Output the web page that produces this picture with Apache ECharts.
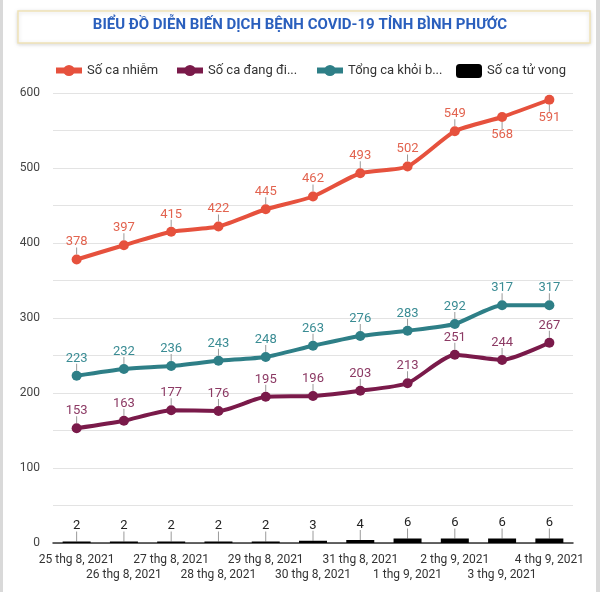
<!DOCTYPE html>
<html>
<head>
<meta charset="utf-8">
<script src="https://cdn.jsdelivr.net/npm/echarts@6/dist/echarts.min.js"></script>
<style>
html,body{margin:0;padding:0;background:#fff;}
#chart{width:600px;height:592px;}
</style>
</head>
<body>
<div id="chart"></div>
<script>
const categories = ['25 thg 8, 2021','26 thg 8, 2021','27 thg 8, 2021','28 thg 8, 2021','29 thg 8, 2021','30 thg 8, 2021','31 thg 8, 2021','1 thg 9, 2021','2 thg 9, 2021','3 thg 9, 2021','4 thg 9, 2021'];
const infected = [378,397,415,422,445,462,493,502,549,568,591];
const treating = [153,163,177,176,195,196,203,213,251,244,267];
const recovered = [223,232,236,243,248,263,276,283,292,317,317];
const deaths = [2,2,2,2,2,3,4,6,6,6,6];
const seriesNames = ['Số ca nhiễm','Số ca đang đi...','Tổng ca khỏi b...','Số ca tử vong'];
const yTicks = [0,100,200,300,400,500,600];

const RED='#e6513d', PURPLE='#7a1a4a', TEAL='#2e7f87';
const RED_T='#e2634f', PURPLE_T='#8c3a64', TEAL_T='#3a8c94';
const FONT='Roboto';
const belowRed = new Set([9,10]);

const chart = echarts.init(document.getElementById('chart'));

// stems data: [index, value, kind] kind: 0 line-above, 1 line-below, 2 bar
const stems = [];
infected.forEach((v,i)=>stems.push([i,v,belowRed.has(i)?1:0]));
treating.forEach((v,i)=>stems.push([i,v,0]));
recovered.forEach((v,i)=>stems.push([i,v,0]));
deaths.forEach((v,i)=>stems.push([i,v,2]));

const legendPos = [53,174,314,456];
const legends = seriesNames.map((n,k)=>({
  data:[n], left:legendPos[k], top:64, itemWidth:26, itemHeight:14, itemGap:5, padding:0,
  lineStyle:{width:6},
  textStyle:{fontFamily:FONT,fontSize:13,color:'#333'}, selectedMode:false
}));

chart.setOption({
  animation:false,
  textStyle:{fontFamily:FONT},
  graphic:[
    {type:'rect', shape:{x:0,y:0,width:3,height:592}, style:{fill:'#d9d9d9'}},
    {type:'rect', shape:{x:596,y:0,width:4,height:592}, style:{fill:'#d9d9d9'}},
    {type:'rect', shape:{x:18,y:11,width:572,height:32}, style:{fill:'#fff',stroke:'#efe2b6',lineWidth:1.5,shadowBlur:4,shadowColor:'rgba(0,0,0,0.15)',shadowOffsetY:1}},
    {type:'text', left:'center', top:18, style:{text:'BIỂU ĐỒ DIỄN BIẾN DỊCH BỆNH COVID-19 TỈNH BÌNH PHƯỚC', fill:'#2a5fbd', font:'bold 15px Roboto', textAlign:'center'}, x:304}
  ],
  legend: legends,
  grid:{left:53,right:27,top:93,bottom:49},
  xAxis:{
    type:'category', data:categories, boundaryGap:true,
    axisLine:{show:true,lineStyle:{color:'#333',width:1.5}},
    axisTick:{show:false},
    axisLabel:{interval:0,fontFamily:FONT,fontSize:12,color:'#333',margin:9,lineHeight:15,
      formatter:(v,i)=> i%2 ? '\n'+v : v}
  },
  yAxis:{
    type:'value', min:0, max:600, interval:50,
    axisLine:{show:false}, axisTick:{show:false},
    splitLine:{lineStyle:{color:'#e3e3e3',width:1}},
    axisLabel:{fontFamily:FONT,fontSize:12,color:'#444',margin:13,
      formatter:v=> yTicks.includes(v) ? String(v) : ''}
  },
  series:[
    {name:seriesNames[0], type:'line', z:5, symbol:'circle', symbolSize:10, smooth:0.2,
      data: infected.map((v,i)=> belowRed.has(i) ? {value:v,label:{position:'bottom'}} : v),
      lineStyle:{color:RED,width:4}, itemStyle:{color:RED},
      label:{show:true, position:'top', distance:6, color:RED_T, fontFamily:FONT, fontSize:13}},
    {name:seriesNames[1], type:'line', data:treating, z:4, symbol:'circle', symbolSize:10, smooth:0.2,
      lineStyle:{color:PURPLE,width:4}, itemStyle:{color:PURPLE},
      label:{show:true, position:'top', distance:6, color:PURPLE_T, fontFamily:FONT, fontSize:13}},
    {name:seriesNames[2], type:'line', data:recovered, z:4, symbol:'circle', symbolSize:10, smooth:0.2,
      lineStyle:{color:TEAL,width:4}, itemStyle:{color:TEAL},
      label:{show:true, position:'top', distance:6, color:TEAL_T, fontFamily:FONT, fontSize:13}},
    {name:seriesNames[3], type:'bar', data:deaths, barWidth:28, z:3, itemStyle:{color:'#000'},
      label:{show:true, position:'top', distance:9, color:'#222', fontFamily:FONT, fontSize:13}},
    {type:'custom', z:2, silent:true, data:stems, encode:{x:0,y:1},
      renderItem:(params,api)=>{
        const i=api.value(0), v=api.value(1), k=api.value(2);
        const p=api.coord([i,v]);
        let y1,y2;
        if(k===0){y1=p[1]-12;y2=p[1]-5;}
        else if(k===1){y1=p[1]+5;y2=p[1]+12;}
        else {y1=p[1]-10;y2=p[1];}
        return {type:'line', shape:{x1:p[0],y1:y1,x2:p[0],y2:y2}, style:{stroke:'#9a9a9a',lineWidth:1}};
      }}
  ]
});
</script>
</body>
</html>
